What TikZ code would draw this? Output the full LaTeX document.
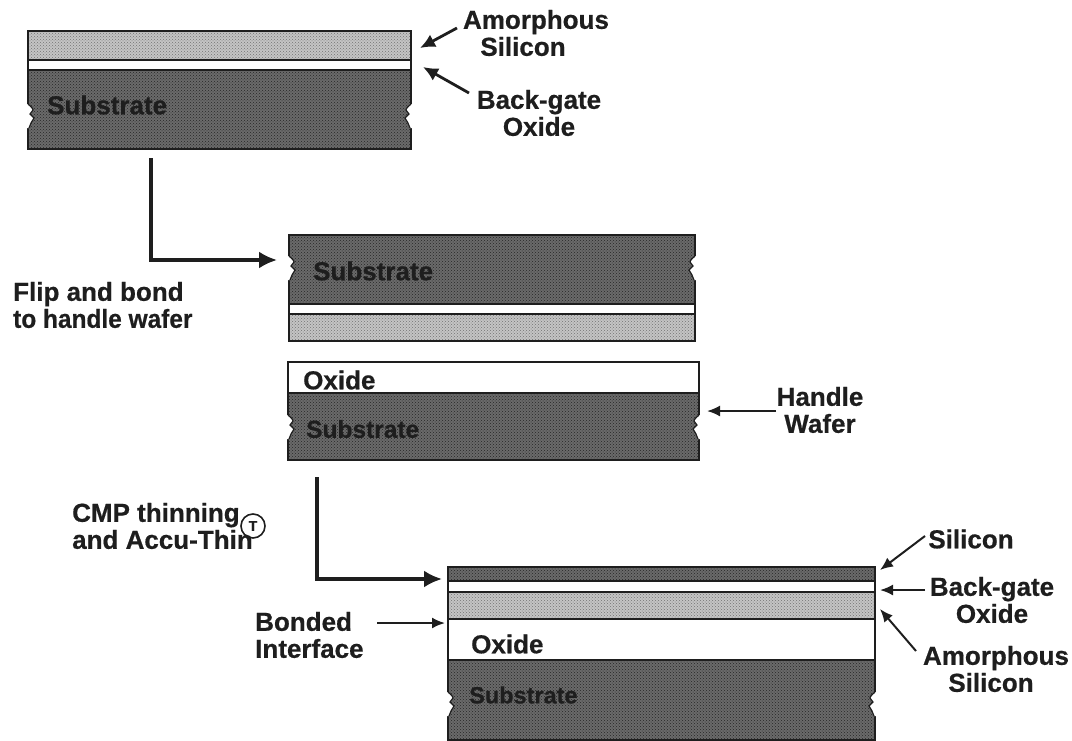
\documentclass[tikz,border=0pt]{standalone}
\usepackage{fontspec}
\setmainfont[BoldFeatures={FakeBold=0.6}]{Liberation Sans}
\usetikzlibrary{arrows.meta,patterns}
\definecolor{ink}{HTML}{1E1E1E}
\definecolor{darksi}{HTML}{6A6A6A}
\definecolor{lightsi}{HTML}{C4C4C4}
\tikzset{
 layerbase/.style={draw=ink,line width=1.3pt,inner sep=0pt,outer sep=0pt,anchor=north west},
 sub/.style={layerbase,preaction={fill=darksi},pattern=crosshatch dots,pattern color=black!85},
 amor/.style={layerbase,preaction={fill=lightsi},pattern=crosshatch dots,pattern color=black!55},
 oxi/.style={layerbase,fill=white},
 oxithin/.style={layerbase,fill=white,line width=2.4pt},
 lbl/.style={font=\fontsize{26}{27}\selectfont\bfseries,text=ink,align=center,inner sep=2pt},
 lblleft/.style={lbl,align=left,anchor=west},
 lblin/.style={lbl,anchor=west,inner sep=0pt},
 lblmid/.style={font=\fontsize{24.5}{26}\selectfont\bfseries,text=ink,anchor=west,inner sep=0pt},
 lblsm/.style={font=\fontsize{23.5}{25}\selectfont\bfseries,text=ink,anchor=west,inner sep=0pt},
 arr/.style={draw=ink,line width=2.8pt,-{Latex[length=15pt,width=14pt]}},
 thinarr/.style={draw=ink,line width=2pt,-{Latex[length=13pt,width=11pt]}},
 flow/.style={draw=ink,line width=3.2pt,-{Latex[length=18pt,width=17pt]}},
 tmark/.style={circle,draw=ink,line width=1.6pt,minimum size=24pt,inner sep=0pt,font=\fontsize{14}{14}\selectfont\bfseries,text=ink},
 notchline/.style={draw=ink,line width=1.2pt}
}
% \lay{name}{style}{x1}{y1}{x2}{y2}
\newcommand{\lay}[6]{\node[#2,minimum width=#5pt-#3pt,minimum height=#6pt-#4pt] (#1) at (#3,#4) {};}
% \tornedge{x}{y}{dir}: torn edge nick, dir=1 on left edge, -1 on right
\newcommand{\tornedge}[3]{%
 \fill[white] ({#1-#3*2},#2) -- (#1,#2) -- ({#1+#3*5},{#2+6}) -- ({#1+#3*2},{#2+10}) -- ({#1+#3*6},{#2+14})
   -- ({#1+#3*3},{#2+19}) -- ({#1+#3*1},{#2+24}) -- ({#1-#3*2},{#2+24}) -- cycle;
 \draw[notchline] (#1,#2) .. controls ({#1+#3*2},{#2+2}) and ({#1+#3*5},{#2+4}) .. ({#1+#3*5},{#2+6})
   -- ({#1+#3*2},{#2+10}) -- ({#1+#3*6},{#2+14}) -- ({#1+#3*3},{#2+19}) -- ({#1+#3*1},{#2+24});}
\begin{document}
\begin{tikzpicture}[x=1pt,y=-1pt]
\useasboundingbox (0,0) rectangle (1072,740);
% Stack 1
\lay{a1}{amor}{28}{31}{411}{60}
\lay{s1}{sub}{28}{70}{411}{149}
\lay{o1}{oxithin}{28}{60}{411}{70}
\tornedge{28}{104}{1}
\tornedge{411}{104}{-1}
\node[lblin] (ts1) at (47,105) {Substrate};
% Stack 2
\lay{s2}{sub}{289}{235}{695}{304}
\lay{a2}{amor}{289}{314}{695}{341}
\lay{o2}{oxithin}{289}{304}{695}{314}
\tornedge{289}{256}{1}
\tornedge{695}{256}{-1}
\node[lblin] (ts2) at (313,271) {Substrate};
% Stack 3
\lay{o3}{oxi}{288}{362}{699}{393}
\lay{s3}{sub}{288}{393}{699}{460}
\tornedge{288}{415}{1}
\tornedge{699}{415}{-1}
\node[lblin] (to3) at (303,380) {Oxide};
\node[lblmid] (ts3) at (306,429) {Substrate};
% Stack 4
\lay{si4}{sub}{448}{567}{875}{581}
\lay{a4}{amor}{448}{592}{875}{619}
\lay{o4b}{oxithin}{448}{581}{875}{592}
\lay{o4}{oxi}{448}{619}{875}{660}
\lay{s4}{sub}{448}{660}{875}{740}
\tornedge{448}{692}{1}
\tornedge{875}{692}{-1}
\node[lblin] (to4) at (471,644) {Oxide};
\node[lblsm] (ts4) at (469,695) {Substrate};
% Labels
\node[lbl] (lamor) at (536,33) {Amorphous\\Silicon\hspace*{26pt}};
\node[lbl] (lbg) at (539,113) {Back-gate\\Oxide};
\node[lblleft] (lflip) at (11,305) {Flip and bond\\\scalebox{0.94}[1]{to handle wafer}};
\node[lbl] (lhw) at (820,410) {Handle\\Wafer};
\node[lblleft] (lcmp) at (70,526) {CMP thinning\\and Accu-Thin};
\node[tmark] (tm) at (253,526) {T};
\node[lblleft] (lbond) at (253,635) {Bonded\\Interface};
\node[lbl] (lsi) at (971,539) {Silicon};
\node[lbl] (lbg4) at (992,600) {Back-gate\\Oxide};
\node[lbl] (lam4) at (996,669) {Amorphous\\Silicon\hspace*{10pt}};
% Arrow end points
\coordinate (sa1) at (457,28);
\coordinate (ta1) at (420,48);
\coordinate (sb1) at (469,93);
\coordinate (tb1) at (423,67);
\coordinate (fs1) at (151,158);
\coordinate (ft1) at (277,260);
\coordinate (fs2) at (317,477);
\coordinate (ft2) at (442,579);
\coordinate (shw) at (776,411);
\coordinate (thw) at (707,411);
\coordinate (tbd) at (445,623);
\coordinate (sbd) at (377,623);
\coordinate (ssi) at (925,536);
\coordinate (tsi) at (880,570);
\coordinate (tbg) at (880,590);
\coordinate (sbg) at (925,590);
\coordinate (sam) at (916,651);
\coordinate (tam) at (880,609);
% Arrows
\draw[arr] (sa1) -- (ta1);
\draw[arr] (sb1) -- (tb1);
\draw[thinarr] (shw) -- (thw);
\draw[thinarr] (sbd) -- (tbd);
\draw[thinarr] (ssi) -- (tsi);
\draw[thinarr] (sbg) -- (tbg);
\draw[thinarr] (sam) -- (tam);
\draw[flow] (fs1) |- (ft1);
\draw[flow] (fs2) |- (ft2);
\end{tikzpicture}
\end{document}
